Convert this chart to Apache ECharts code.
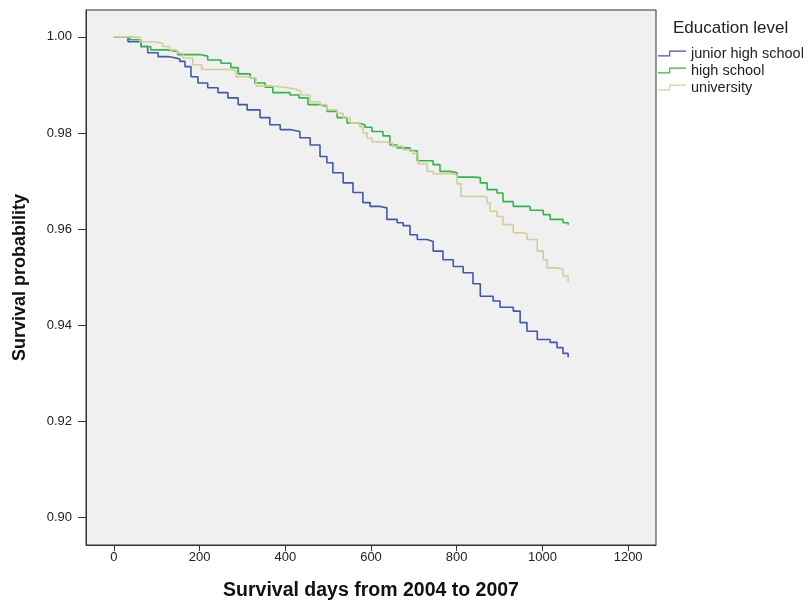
<!DOCTYPE html>
<html>
<head>
<meta charset="utf-8">
<script src="https://cdn.jsdelivr.net/npm/echarts@6/dist/echarts.min.js"></script>
<style>html,body{margin:0;padding:0;background:#fff}#c{width:811px;height:606px}</style>
</head>
<body>
<div id="c"></div>
<script>
// Category / legend names
var groupNames = ['junior high school', 'high school', 'university'];
// Tick labels
var xTicks = [0, 200, 400, 600, 800, 1000, 1200];
var yTicks = [0.90, 0.92, 0.94, 0.96, 0.98, 1.00];

// Junior high school: event days and survival after each step
var juniorDays = [0,33,63,79,103,126,145,154,166,180,196,219,243,266,290,311,341,364,388,411,434,458,481,497,511,535,558,581,598,621,637,661,675,691,708,731,745,768,792,815,838,855,885,901,932,948,964,988,1018,1034,1048,1060];
var juniorSurv = [1.0000,0.9990,0.9980,0.9967,0.9959,0.9956,0.9954,0.9949,0.9938,0.9917,0.9904,0.9894,0.9884,0.9873,0.9859,0.9848,0.9832,0.9817,0.9807,0.9803,0.9790,0.9775,0.9751,0.9738,0.9717,0.9696,0.9676,0.9655,0.9647,0.9644,0.9620,0.9613,0.9607,0.9588,0.9578,0.9574,0.9554,0.9536,0.9522,0.9509,0.9486,0.9460,0.9450,0.9437,0.9429,0.9405,0.9387,0.9370,0.9364,0.9353,0.9341,0.9333];

// High school
var highDays = [0,37,63,86,126,149,203,219,250,273,290,318,329,353,371,411,432,453,481,497,521,544,567,586,602,628,644,661,691,708,745,761,785,801,838,855,871,894,908,932,971,1002,1018,1048,1060];
var highSurv = [1.0000,0.9994,0.9980,0.9973,0.9969,0.9963,0.9960,0.9952,0.9945,0.9936,0.9923,0.9915,0.9904,0.9895,0.9884,0.9879,0.9873,0.9859,0.9855,0.9845,0.9832,0.9821,0.9817,0.9812,0.9803,0.9794,0.9775,0.9769,0.9763,0.9742,0.9734,0.9720,0.9717,0.9708,0.9707,0.9696,0.9682,0.9675,0.9657,0.9647,0.9639,0.9630,0.9620,0.9613,0.9609];

// University
var uniDays = [0,37,61,91,114,131,147,161,184,205,271,285,311,332,364,399,425,437,458,481,497,521,535,551,574,581,591,602,637,651,675,698,710,731,745,789,801,810,855,871,878,894,908,932,955,964,988,1002,1011,1034,1048,1060];
var uniSurv = [1.0000,0.9999,0.9990,0.9987,0.9980,0.9973,0.9966,0.9956,0.9942,0.9932,0.9930,0.9917,0.9914,0.9898,0.9895,0.9891,0.9887,0.9879,0.9865,0.9859,0.9848,0.9841,0.9831,0.9821,0.9813,0.9800,0.9789,0.9781,0.9779,0.9772,0.9765,0.9757,0.9736,0.9720,0.9715,0.9713,0.9694,0.9668,0.9667,0.9654,0.9637,0.9626,0.9609,0.9592,0.9590,0.9578,0.9554,0.9536,0.9519,0.9516,0.9502,0.9490];

var colors = ['#3e58ac', '#2eb848', '#d3ce97'];

function zip(a, b) { return a.map(function (v, i) { return [v, b[i]]; }); }

var stepIcon = 'path://M0,5 L12,5 L12,0 L30,0 L30,1.2 L13.2,1.2 L13.2,6.2 L0,6.2 Z';
var fontFam = '"Liberation Sans", Arial, sans-serif';

var chart = echarts.init(document.getElementById('c'), null, {renderer: 'canvas'});
chart.setOption({
  animation: false,
  backgroundColor: '#ffffff',
  color: colors,
  title: {
    text: 'Education level',
    left: 668, top: 15,
    textStyle: {fontSize: 17, fontWeight: 'normal', color: '#222', fontFamily: fontFam}
  },
  legend: {
    orient: 'vertical',
    left: 653, top: 41,
    itemWidth: 28, itemHeight: 6, itemGap: 2,
    icon: stepIcon,
    data: groupNames,
    textStyle: {fontSize: 14.5, color: '#222', fontFamily: fontFam, lineHeight: 15}
  },
  grid: {
    left: 86, top: 10, right: 155, bottom: 60,
    show: true, backgroundColor: '#f0f0f0', borderColor: '#333', borderWidth: 1
  },
  xAxis: {
    type: 'value', min: -65, max: 1265,
    name: 'Survival days from 2004 to 2007',
    nameLocation: 'middle', nameGap: 36,
    nameTextStyle: {fontSize: 19.5, fontWeight: 'bold', color: '#111', fontFamily: fontFam},
    axisLine: {show: true, onZero: false, lineStyle: {color: '#333'}},
    axisTick: {show: true, length: 6, customValues: xTicks, lineStyle: {color: '#333'}},
    axisLabel: {customValues: xTicks, margin: 6, fontSize: 13, color: '#222', fontFamily: fontFam,
      formatter: function (v) { return String(v); }},
    splitLine: {show: false}
  },
  yAxis: {
    type: 'value', min: 0.8942, max: 1.0056,
    name: 'Survival probability',
    nameLocation: 'middle', nameGap: 57,
    nameTextStyle: {fontSize: 18, fontWeight: 'bold', color: '#111', fontFamily: fontFam},
    axisLine: {show: true, onZero: false, lineStyle: {color: '#333'}},
    axisTick: {show: true, length: 8, customValues: yTicks, lineStyle: {color: '#333'}},
    axisLabel: {customValues: yTicks, margin: 14, fontSize: 13, color: '#222', fontFamily: fontFam,
      formatter: function (v) { return v.toFixed(2); }},
    splitLine: {show: false}
  },
  series: [
    {name: groupNames[0], type: 'line', step: 'end', symbol: 'none', data: zip(juniorDays, juniorSurv), lineStyle: {width: 1.6, color: colors[0]}},
    {name: groupNames[1], type: 'line', step: 'end', symbol: 'none', data: zip(highDays, highSurv), lineStyle: {width: 1.6, color: colors[1]}},
    {name: groupNames[2], type: 'line', step: 'end', symbol: 'none', data: zip(uniDays, uniSurv), lineStyle: {width: 1.6, color: colors[2]}}
  ]
});
</script>
</body>
</html>
